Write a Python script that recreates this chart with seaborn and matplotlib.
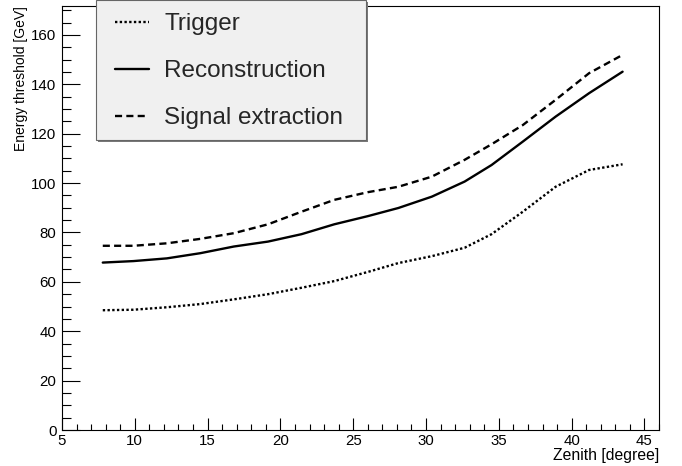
import numpy as np
import pandas as pd
import matplotlib
matplotlib.use("Agg")
import matplotlib.pyplot as plt
from matplotlib.patches import Rectangle
from matplotlib.ticker import MultipleLocator
import seaborn as sns

# Energy threshold versus zenith angle for three analysis stages
zenith = [7.8, 9.9, 12.2, 14.5, 16.8, 19.15, 21.45, 23.7, 26.0, 28.1,
          30.4, 32.65, 34.5, 36.65, 38.9, 41.2, 43.5]
trigger = [48.5, 48.7, 49.7, 51.0, 52.9, 55.0, 57.6, 60.3, 64.0, 67.6,
           70.4, 73.8, 79.3, 88.4, 98.5, 105.3, 107.6]
reconstruction = [67.8, 68.4, 69.5, 71.6, 74.3, 76.3, 79.3, 83.3, 86.6, 89.9,
                  94.5, 100.6, 107.3, 116.8, 126.9, 136.4, 145.1]
signal_extraction = [74.6, 74.6, 75.6, 77.4, 79.7, 83.3, 88.4, 93.2, 96.3, 98.5,
                     102.6, 109.4, 115.7, 123.5, 133.7, 144.5, 151.9]

series_names = ["Trigger", "Reconstruction", "Signal extraction"]

df = pd.concat([
    pd.DataFrame({"Zenith": zenith, "Threshold": vals, "Stage": name})
    for name, vals in zip(series_names, [trigger, reconstruction, signal_extraction])
], ignore_index=True)

sns.set_style("white")
plt.rcParams["font.family"] = ["Liberation Sans", "DejaVu Sans"]

W, H = 682, 466
fig = plt.figure(figsize=(W / 100, H / 100), dpi=100)
ax = fig.add_axes([62 / W, 1 - 430 / H, 597 / W, 424 / H])

dash_styles = {
    "Trigger": (1, 1),
    "Reconstruction": "",
    "Signal extraction": (3, 1.8),
}
sns.lineplot(data=df, x="Zenith", y="Threshold", style="Stage",
             style_order=series_names, dashes=dash_styles, color="black",
             linewidth=1.7, ax=ax, legend=False, sort=False)

ax.set_xlim(5, 46)
ax.set_ylim(0, 171.7)
ax.xaxis.set_major_locator(MultipleLocator(5))
ax.xaxis.set_minor_locator(MultipleLocator(1))
ax.yaxis.set_major_locator(MultipleLocator(20))
ax.yaxis.set_minor_locator(MultipleLocator(5))

ax.tick_params(which="both", direction="in", bottom=True, left=True,
               top=False, right=False, color="black", width=0.8,
               labelsize=10.8, labelcolor="black")
ax.tick_params(axis="y", which="major", length=13, pad=4)
ax.tick_params(axis="y", which="minor", length=6.5)
ax.tick_params(axis="x", which="major", length=9, pad=3)
ax.tick_params(axis="x", which="minor", length=4.5)

for side in ax.spines.values():
    side.set_color("black")
    side.set_linewidth(0.8)

ax.set_xlabel("Zenith [degree]", fontsize=11.3, ha="right", color="black")
ax.xaxis.set_label_coords(1.0, -0.043)
ax.set_ylabel("Energy threshold [GeV]", fontsize=10, ha="right", color="black")
ax.yaxis.set_label_coords(-0.057, 1.0)

# Legend panel: grey box with a thin drop shadow, overlapping the frame top
box_x0, box_x1, box_y0, box_y1 = 96, 366, 0, 140
shadow = Rectangle(((box_x0 + 2) / W, 1 - (box_y1 + 2) / H),
                   (box_x1 - box_x0) / W, (box_y1 - box_y0) / H,
                   transform=fig.transFigure, facecolor="#7a7a7a",
                   edgecolor="none", zorder=5)
panel = Rectangle((box_x0 / W, 1 - box_y1 / H),
                  (box_x1 - box_x0) / W, (box_y1 - box_y0) / H,
                  transform=fig.transFigure, facecolor="#f0f0f0",
                  edgecolor="#666666", linewidth=0.8, zorder=6)
fig.patches.extend([shadow, panel])

handles = [plt.Line2D([], [], color="black", linewidth=1.7, dashes=(1, 1)),
           plt.Line2D([], [], color="black", linewidth=1.7),
           plt.Line2D([], [], color="black", linewidth=1.7, dashes=(3, 1.8))]
leg = fig.legend(handles, series_names, loc="upper left",
                 bbox_to_anchor=(115 / W, 1 - 13 / H),
                 fontsize=17.5, handlelength=1.4, handletextpad=0.62,
                 labelspacing=1.03, borderpad=0, borderaxespad=0,
                 frameon=False)
leg.set_zorder(7)

fig.savefig("out.png", dpi=100, facecolor="white")
